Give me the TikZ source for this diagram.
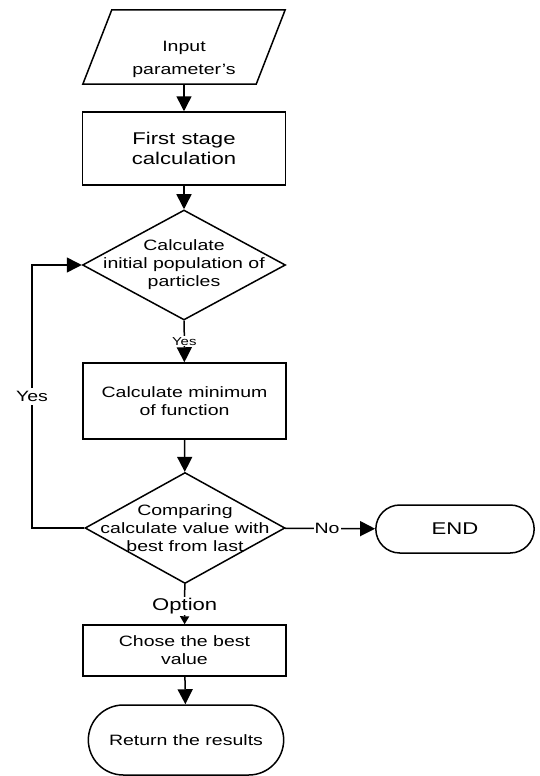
\documentclass[tikz,border=0pt]{standalone}
\usepackage{fontspec}
\setmainfont{Liberation Sans}[FakeStretch=1.3]
\usepackage{tikz}
\usetikzlibrary{shapes,arrows.meta}
\tikzstyle{iobox} = [rectangle, minimum width=202pt, minimum height=74pt, inner sep=0pt]
\tikzstyle{procbox} = [draw=black, line width=1.5pt, rectangle, minimum width=203pt, align=center, font=\fontsize{15}{18}\selectfont]
\tikzstyle{choice} = [draw=black, line width=1.5pt, diamond, inner sep=0pt, minimum width=203pt, minimum height=110pt]
\tikzstyle{inside} = [align=center, font=\fontsize{15}{18}\selectfont]
\tikzstyle{termbox} = [draw=black, line width=1.5pt, rounded rectangle, align=center, font=\fontsize{15}{18}\selectfont]
\tikzstyle{link} = [line width=1.5pt, -{Triangle[length=15pt,width=15pt]}]
\tikzstyle{tag} = [fill=white, inner sep=1pt, font=\fontsize{15}{18}\selectfont]

\begin{document}
\begin{tikzpicture}[x=1pt, y=-1pt]
\useasboundingbox (0,0) rectangle (540,776);
% blocchi
\node [iobox] (input) at (184,47) {};
\draw [line width=1.5pt] ([xshift=29pt]input.north west) -- (input.north east) -- ([xshift=-29pt]input.south east) -- (input.south west) -- cycle;
\node [inside, font=\fontsize{15}{23}\selectfont] (inputtxt) at (184,59) {Input\\parameter's};
\node [procbox, minimum height=73pt, font=\fontsize{17}{20}\selectfont] (stage) at (184,148.5) {First stage\\calculation};
\node [choice] (population) at (184,265) {};
\node [inside] (populationtxt) at (population.center) {Calculate\\initial population of\\particles};
\node [procbox, minimum height=76pt] (minimum) at (184.5,401) {Calculate minimum\\of function};
\node [choice, minimum width=200pt, minimum height=111pt] (compare) at (185,528) {};
\node [inside] (comparetxt) at (compare.center) {Comparing\\calculate value with\\best from last};
\node [termbox, minimum width=165pt, minimum height=48pt, font=\fontsize{17}{20}\selectfont] (finish) at (455,529) {END};
\node [procbox, minimum height=51pt] (best) at (184.5,650.5) {Chose the best\\value};
\node [termbox, minimum width=202pt, minimum height=70pt] (results) at (186,740) {Return the results};
% ciclo
\coordinate (loopdown) at (32,528);
\coordinate (loopup) at (32,265);
% frecce
\draw [link] (input.south) -- (stage);
\draw [link] (stage) -- (population);
\draw [link] (population) -- node [tag, font=\fontsize{11.5}{14}\selectfont] {Yes} (minimum);
\draw [link] (minimum) -- (compare);
\draw [link] (compare) -- node [tag, xshift=-3pt] {No} (finish);
\draw [line width=1.5pt, -{Triangle[length=8pt,width=9pt]}] (compare) -- node [tag, font=\fontsize{17}{20}\selectfont, yshift=-2pt] {Option} (best);
\draw [link] (best) -- (results);
\draw [link] (compare.west) -- (loopdown) -- node [tag, inner ysep=3pt] {Yes} (loopup) -- (population.west);
\end{tikzpicture}
\end{document}
